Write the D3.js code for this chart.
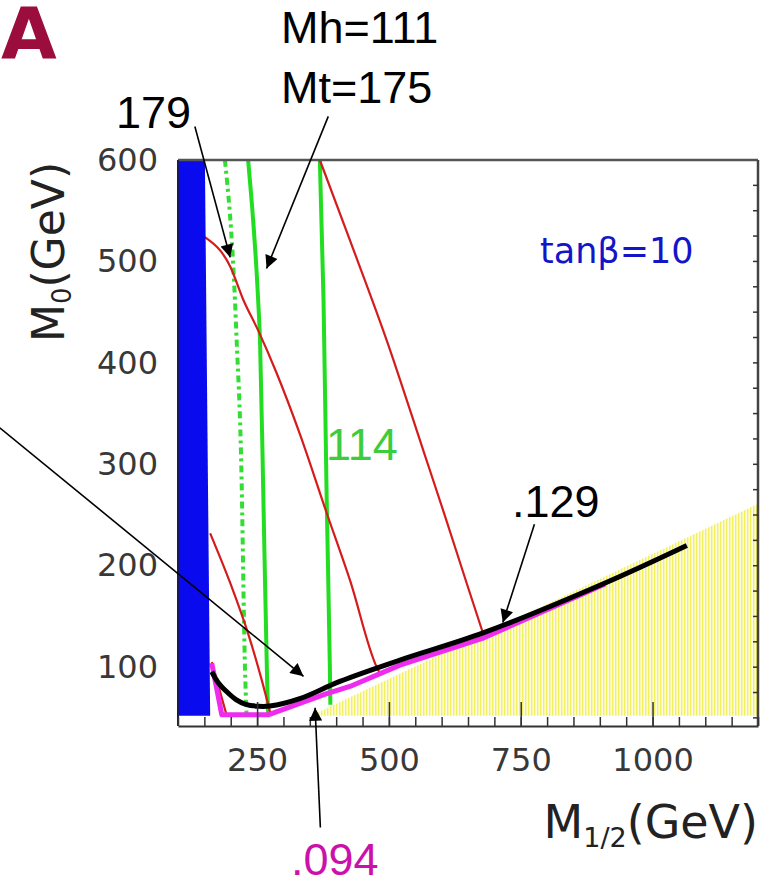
<!DOCTYPE html>
<html>
<head>
<meta charset="utf-8">
<script src="https://cdn.jsdelivr.net/npm/d3@7"></script>
<style>
  body { margin: 0; background: #fff; }
  svg text { font-family: "DejaVu Sans", sans-serif; }
  .note { font-family: "Liberation Sans Narrow", "Liberation Sans", sans-serif; font-size: 45px; }
</style>
</head>
<body>
<div id="chart"></div>
<script>
// (M1/2, M0) plane for tan(beta)=10, values in GeV

const xTicks = [250, 500, 750, 1000];
const yTicks = [100, 200, 300, 400, 500, 600];

// excluded regions
const charginoBand = [[100, 600], [151, 600], [161, 52], [100, 52]];
const stauLSP = [[352, 52], [1200, 261], [1200, 52]];

// higgs mass contours (green)
const mh111mt179 = [[189, 600], [208, 462], [211, 425], [220, 300], [227, 100], [230, 53]];
const mh111mt175 = [[233, 600], [252, 462], [255.5, 423], [262, 265], [269, 87], [271, 53]];
const mh114 = [[369, 600], [376, 462], [382, 265], [388, 100], [389, 63]];

// red contours
const redA = [[151, 524], [199, 495], [224, 462], [252, 432], [287, 390], [331, 330], [382, 252], [426, 186], [477, 100], [483, 94]];
const redB = [[369, 600], [426, 521], [496, 422], [565, 314], [607, 248], [648, 182], [680, 131]];
const redC = [[161, 232], [199, 183], [233, 133], [259, 87], [276, 53]];
const redD = [[164, 105], [192, 53]];

// relic density boundaries
const omega129 = [[164, 95.5], [176, 85], [192, 76], [210, 68], [230, 63], [252, 61.5], [274, 61.7], [331, 69], [407, 86], [521, 107], [680, 134], [910, 183], [1065, 220]];
const omega094 = [[164, 104], [183, 53], [271, 53], [382, 74], [426, 81], [521, 102], [680, 129], [910, 182]];

// annotation arrows [from, to]
const arrow179 = [[132, 633], [199, 504]];
const arrowMt175 = [[385, 643], [268, 493]];
const arrowLeft = [[-238, 336], [338, 91]];
const arrow129 = [[776, 241], [716, 144]];
const arrow094 = [[370, -58], [360, 60]];

const W = 769, H = 886;

const svg = d3.select("#chart")
    .append("svg")
        .attr("width", W)
        .attr("height", H);

const x = d3.scaleLinear().domain([100, 1200]).range([178, 758]);
const y = d3.scaleLinear().domain([42, 600]).range([726, 160]);

const defs = svg.append("defs");
// vertical yellow hatching
const hatch = defs.append("pattern")
    .attr("id", "hatch")
    .attr("patternUnits", "userSpaceOnUse")
    .attr("width", 3)
    .attr("height", 6);
hatch.append("rect").attr("width", 3).attr("height", 6).attr("fill", "#fdfce0");
hatch.append("rect").attr("width", 1.4).attr("height", 6).attr("fill", "#f3f060");

defs.append("marker")
    .attr("id", "head")
    .attr("viewBox", "0 0 10 10")
    .attr("refX", 10)
    .attr("refY", 5)
    .attr("markerUnits", "userSpaceOnUse")
    .attr("markerWidth", 17)
    .attr("markerHeight", 13)
    .attr("orient", "auto")
  .append("path")
    .attr("d", "M0,0 L10,5 L0,10 z")
    .attr("fill", "#000");

const area = d3.line().x(d => x(d[0])).y(d => y(d[1]));
const smooth = d3.line().x(d => x(d[0])).y(d => y(d[1])).curve(d3.curveMonotoneX);
const straight = d3.line().x(d => x(d[0])).y(d => y(d[1]));

// stau LSP region
svg.append("path")
    .attr("d", area(stauLSP) + "Z")
    .attr("fill", "url(#hatch)");

// green higgs lines
svg.append("path").attr("d", smooth(mh111mt179))
    .attr("fill", "none").attr("stroke", "#33dd33").attr("stroke-width", 4)
    .attr("stroke-dasharray", "7,4,3,4");
[mh111mt175, mh114].forEach(d => {
    svg.append("path").attr("d", smooth(d))
        .attr("fill", "none").attr("stroke", "#22dd22").attr("stroke-width", 4);
});

// red contours
[redA, redB, redC, redD].forEach(d => {
    svg.append("path").attr("d", smooth(d))
        .attr("fill", "none").attr("stroke", "#d41c1c").attr("stroke-width", 2.2);
});

// relic density
svg.append("path").attr("d", straight(omega094))
    .attr("fill", "none").attr("stroke", "#ee2cee").attr("stroke-width", 5)
    .attr("stroke-linejoin", "round");
svg.append("path").attr("d", d3.line().x(d => x(d[0])).y(d => y(d[1])).curve(d3.curveCatmullRom)(omega129))
    .attr("fill", "none").attr("stroke", "#000").attr("stroke-width", 5)
    .attr("stroke-linejoin", "round");

// chargino band
svg.append("path")
    .attr("d", area(charginoBand) + "Z")
    .attr("fill", "#0a0aee");

// frame
svg.append("line")
    .attr("x1", x(100)).attr("x2", x(1200)).attr("y1", y(600)).attr("y2", y(600))
    .attr("stroke", "#555").attr("stroke-width", 2.5);
svg.append("line")
    .attr("x1", x(1200)).attr("x2", x(1200)).attr("y1", y(600)).attr("y2", y(42))
    .attr("stroke", "#444").attr("stroke-width", 2.5);
svg.append("line")
    .attr("x1", x(100)).attr("x2", x(100)).attr("y1", y(600)).attr("y2", y(42))
    .attr("stroke", "#1a1a5a").attr("stroke-width", 2);

// right side small ticks
svg.selectAll(".rtick")
    .data(d3.range(50, 600, 25))
    .join("line")
        .attr("x1", x(1200) - 5).attr("x2", x(1200))
        .attr("y1", d => y(d)).attr("y2", d => y(d))
        .attr("stroke", "#333").attr("stroke-width", 1.5);

// x axis: minor ticks every 50, major labelled
const xMinor = d3.axisBottom(x)
    .tickValues(d3.range(100, 1201, 50))
    .tickSize(-9).tickSizeOuter(0).tickFormat("");
svg.append("g")
    .attr("transform", `translate(0, ${y(42)})`)
    .call(xMinor)
    .call(g => g.select(".domain").attr("stroke", "#333").attr("stroke-width", 2))
    .call(g => g.selectAll(".tick line").attr("stroke", "#333").attr("stroke-width", 1.5));

const xAxis = d3.axisBottom(x)
    .tickValues(xTicks)
    .tickFormat(d3.format("d"))
    .tickSize(-24).tickSizeOuter(0).tickPadding(22);
svg.append("g")
    .attr("transform", `translate(0, ${y(42)})`)
    .call(xAxis)
    .call(g => g.select(".domain").remove())
    .call(g => g.selectAll(".tick line").attr("stroke", "#333").attr("stroke-width", 1.5))
    .call(g => g.selectAll("text")
        .attr("font-family", "DejaVu Sans").attr("font-size", 32).attr("fill", "#383838"));

// y axis labels
const yAxis = d3.axisLeft(y)
    .tickValues(yTicks)
    .tickSize(0).tickPadding(20);
svg.append("g")
    .attr("transform", `translate(${x(100)}, 0)`)
    .call(yAxis)
    .call(g => g.select(".domain").remove())
    .call(g => g.selectAll("text")
        .attr("font-family", "DejaVu Sans").attr("font-size", 32).attr("fill", "#383838"));

// axis titles
const xt = svg.append("text")
    .attr("x", 758).attr("y", 838)
    .attr("text-anchor", "end")
    .attr("font-size", 46).attr("fill", "#222");
xt.append("tspan").text("M");
xt.append("tspan").attr("font-size", 27).attr("dy", 9).text("1/2");
xt.append("tspan").attr("dy", -9).text("(GeV)");

const yt = svg.append("text")
    .attr("transform", "translate(64, 252) rotate(-90)")
    .attr("text-anchor", "middle")
    .attr("font-size", 44).attr("fill", "#222");
yt.append("tspan").text("M");
yt.append("tspan").attr("font-size", 26).attr("dy", 7).text("0");
yt.append("tspan").attr("dy", -7).text("(GeV)");

// arrows
[arrow179, arrowMt175, arrowLeft, arrow129, arrow094].forEach(a => {
    svg.append("line")
        .attr("x1", x(a[0][0])).attr("y1", y(a[0][1]))
        .attr("x2", x(a[1][0])).attr("y2", y(a[1][1]))
        .attr("stroke", "#000").attr("stroke-width", 1.6)
        .attr("marker-end", "url(#head)");
});

// labels
svg.append("text")
    .attr("x", 1).attr("y", 58)
    .attr("font-family", "Liberation Sans Narrow, Liberation Sans, sans-serif")
    .attr("font-weight", "bold").attr("font-size", 72)
    .attr("fill", "#9b0d3d")
    .text("A");

const notes = [
    {text: "Mh=111", x: 281, y: 43, color: "#000"},
    {text: "Mt=175", x: 281, y: 103, color: "#000"},
    {text: "179", x: 116, y: 128, color: "#000"},
    {text: "114", x: 326, y: 460, color: "#3ccc3c"},
    {text: ".129", x: 512, y: 517, color: "#000"},
    {text: ".094", x: 291, y: 875, color: "#cc11aa"}
];
svg.selectAll(".note")
    .data(notes)
    .join("text")
        .attr("class", "note")
        .attr("x", d => d.x).attr("y", d => d.y)
        .attr("fill", d => d.color)
        .text(d => d.text);

svg.append("text")
    .attr("x", 540).attr("y", 263)
    .attr("font-size", 35).attr("fill", "#1515c8")
    .text("tanβ=10");
</script>
</body>
</html>
